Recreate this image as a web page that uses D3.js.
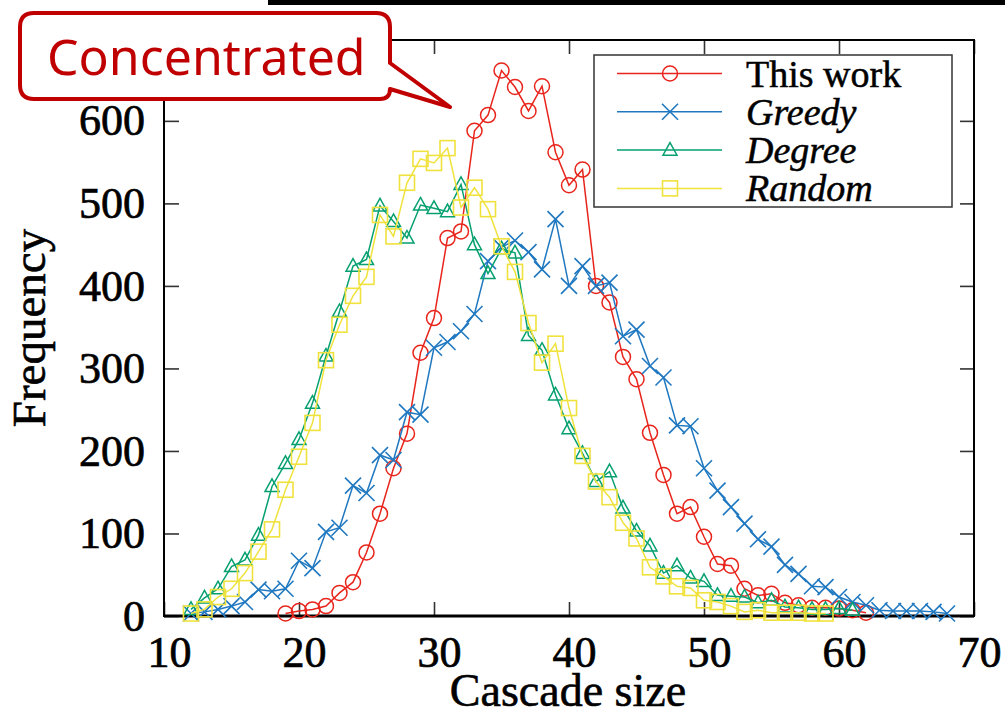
<!DOCTYPE html>
<html>
<head>
<meta charset="utf-8">
<script src="https://cdn.jsdelivr.net/npm/d3@7/dist/d3.min.js"></script>
<style>
  html, body { margin: 0; padding: 0; background: #fff; }
  svg { display: block; }
</style>
</head>
<body>
<svg id="chart" width="1005" height="717"></svg>
<script>
// ---------- data ----------
const xTicks = [10, 20, 30, 40, 50, 60, 70];
const yTicks = [0, 100, 200, 300, 400, 500, 600];

const thisWorkX = [19,20,21,22,23,24,25,26,27,28,29,30,31,32,33,34,35,36,37,38,39,40,41,42,43,44,45,46,47,48,49,50,51,52,53,54,55,56,57,58,59,60,61,62];
const thisWorkY = [3,6,8,12,28,41,77,124,179,221,319,361,458,466,588,607,661,641,612,642,562,522,541,400,380,314,287,222,171,124,132,96,63,61,33,25,27,16,13,10,10,9,7,4];

const greedyX = [12,13,14,15,16,17,18,19,20,21,22,23,24,25,26,27,28,29,30,31,32,33,34,35,36,37,38,39,40,41,42,43,44,45,46,47,48,49,50,51,52,53,54,55,56,57,58,59,60,61,62,63,64,65,66,67,68];
const greedyY = [3,5,8,12,17,32,30,33,67,58,102,107,158,149,195,189,247,244,325,332,345,366,430,447,455,441,420,481,400,424,400,404,339,347,303,289,231,230,179,152,132,112,93,84,62,51,36,35,23,17,13,7,6,6,6,5,3];

const degreeX = [12,13,14,15,16,17,18,19,20,21,22,23,24,25,26,27,28,29,30,31,32,33,34,35,36,37,38,39,40,41,42,43,44,45,46,47,48,49,50,51,52,53,54,55,56,57,58,59,60,61];
const degreeY = [8,22,33,60,68,98,157,185,214,258,315,369,424,432,497,478,458,498,494,490,523,450,415,445,440,340,322,268,227,197,163,175,131,103,85,52,61,46,42,25,24,23,16,19,11,10,8,8,9,7];

const randomX = [12,13,14,15,16,17,18,19,20,21,22,23,24,25,26,27,28,29,30,31,32,33,34,35,36,37,38,39,40,41,42,43,44,45,46,47,48,49,50,51,52,53,54,55,56,57,58,59];
const randomY = [3,8,23,33,52,78,105,153,193,234,310,353,388,411,486,460,525,554,549,567,495,519,493,448,417,355,307,330,252,194,163,144,113,94,59,48,36,34,19,17,12,5,7,4,4,4,3,3];

const seriesNames = ["This work", "Greedy", "Degree", "Random"];
const seriesItalic = [false, true, true, true];
const seriesColors = ["#e8251c", "#1f78c0", "#06a070", "#f0e23c"];
const seriesMarkers = ["circle", "cross", "triangle", "square"];

// ---------- layout ----------
const svg = d3.select("#chart");
const L = 164, R = 974, T = 40, B = 616;
const x = d3.scaleLinear().domain([10, 70]).range([L, R]);
const y = d3.scaleLinear().domain([0, 698]).range([B, T]);

const serif = "'Liberation Serif', 'Times New Roman', serif";

// stray bar from the figure above
svg.append("rect").attr("x", 268).attr("y", 0).attr("width", 737).attr("height", 5).attr("fill", "#000");

// axes
const gx = svg.append("g").attr("transform", `translate(0,${B})`)
  .call(d3.axisBottom(x).tickValues(xTicks).tickSize(-14).tickPadding(20).tickFormat(d3.format("d")));
const gy = svg.append("g").attr("transform", `translate(${L},0)`)
  .call(d3.axisLeft(y).tickValues(yTicks).tickSize(-15).tickPadding(19).tickFormat(d3.format("d")));
const gt = svg.append("g").attr("transform", `translate(0,${T})`)
  .call(d3.axisTop(x).tickValues(xTicks).tickSize(-14).tickFormat(""));
const gr = svg.append("g").attr("transform", `translate(${R},0)`)
  .call(d3.axisRight(y).tickValues(yTicks).tickSize(-14).tickFormat(""));

[gx, gy, gt, gr].forEach(g => {
  g.select(".domain").remove();
  g.selectAll(".tick line").attr("stroke", "#333").attr("stroke-width", 1.6);
  g.selectAll(".tick text").attr("font-family", serif).attr("font-size", 44).attr("fill", "#000")
    .attr("stroke", "#000").attr("stroke-width", 0.7);
});
gx.selectAll(".tick text").attr("dx", 5);

// frame
svg.append("rect").attr("x", L).attr("y", T).attr("width", R - L).attr("height", B - T)
  .attr("fill", "none").attr("stroke", "#000").attr("stroke-width", 2);
svg.append("line").attr("x1", L).attr("x2", R).attr("y1", B).attr("y2", B)
  .attr("stroke", "#000").attr("stroke-width", 3);

// axis titles
svg.append("text").attr("x", 568).attr("y", 706).attr("text-anchor", "middle")
  .attr("font-family", serif).attr("font-size", 46).attr("stroke", "#000").attr("stroke-width", 0.6)
  .text("Cascade size");
svg.append("text").attr("transform", "translate(45,328) rotate(-90)").attr("text-anchor", "middle")
  .attr("font-family", serif).attr("font-size", 47).attr("stroke", "#000").attr("stroke-width", 0.6)
  .text("Frequency");

// markers
function drawMarker(g, type, cx, cy, color, s) {
  if (type === "circle") {
    g.append("circle").attr("cx", cx).attr("cy", cy).attr("r", s).attr("fill", "none")
      .attr("stroke", color).attr("stroke-width", 1.5);
  } else if (type === "cross") {
    g.append("path").attr("d", `M${cx - s},${cy - s}L${cx + s},${cy + s}M${cx - s},${cy + s}L${cx + s},${cy - s}`)
      .attr("stroke", color).attr("stroke-width", 1.6).attr("fill", "none");
  } else if (type === "triangle") {
    const h = s * 1.8;
    g.append("path").attr("d", `M${cx},${cy - h * 0.6}L${cx + s},${cy + h * 0.4}L${cx - s},${cy + h * 0.4}Z`)
      .attr("stroke", color).attr("stroke-width", 1.5).attr("fill", "none");
  } else {
    g.append("rect").attr("x", cx - s).attr("y", cy - s).attr("width", 2 * s).attr("height", 2 * s)
      .attr("stroke", color).attr("stroke-width", 1.6).attr("fill", "none");
  }
}
const markerSize = [7.5, 8, 7, 7.5];

const allX = [thisWorkX, greedyX, degreeX, randomX];
const allY = [thisWorkY, greedyY, degreeY, randomY];
const line = d3.line().x(d => x(d[0])).y(d => y(d[1]));

allX.forEach((xs, i) => {
  const pts = xs.map((v, j) => [v, allY[i][j]]);
  const g = svg.append("g");
  g.append("path").attr("d", line(pts)).attr("fill", "none")
    .attr("stroke", seriesColors[i]).attr("stroke-width", 1.5);
  pts.forEach(p => drawMarker(g, seriesMarkers[i], x(p[0]), y(p[1]), seriesColors[i], markerSize[i]));
});

// legend
const lg = svg.append("g");
lg.append("rect").attr("x", 594).attr("y", 55).attr("width", 358).attr("height", 152)
  .attr("fill", "#fff").attr("stroke", "#333").attr("stroke-width", 1.5);
seriesNames.forEach((name, i) => {
  const ly = 73.5 + i * 38.3;
  lg.append("line").attr("x1", 617).attr("x2", 722).attr("y1", ly).attr("y2", ly)
    .attr("stroke", seriesColors[i]).attr("stroke-width", 1.5);
  drawMarker(lg, seriesMarkers[i], 670, ly, seriesColors[i], markerSize[i]);
  lg.append("text").attr("x", 746).attr("y", ly + 13).attr("font-family", serif)
    .attr("font-size", 38).attr("stroke", "#000").attr("stroke-width", 0.5)
    .attr("font-style", seriesItalic[i] ? "italic" : "normal").text(name);
});

// callout
const c = svg.append("g");
const x0 = 20, y0 = 13, x1 = 390, y1 = 99, r = 14;
c.append("path").attr("d",
  `M${x0 + r},${y0}H${x1 - r}Q${x1},${y0} ${x1},${y0 + r}V63L450,107L${x1},89Q${x1},${y1} ${x1 - 10},${y1}` +
  `H${x0 + r}Q${x0},${y1} ${x0},${y1 - r}V${y0 + r}Q${x0},${y0} ${x0 + r},${y0}Z`)
  .attr("fill", "#fff").attr("stroke", "#c00000").attr("stroke-width", 4).attr("stroke-linejoin", "round");
c.append("text").attr("x", 47).attr("y", 75).attr("font-family", "'Noto Sans', 'Open Sans', sans-serif")
  .attr("font-size", 50).attr("fill", "#c00000").text("Concentrated");
</script>
</body>
</html>
